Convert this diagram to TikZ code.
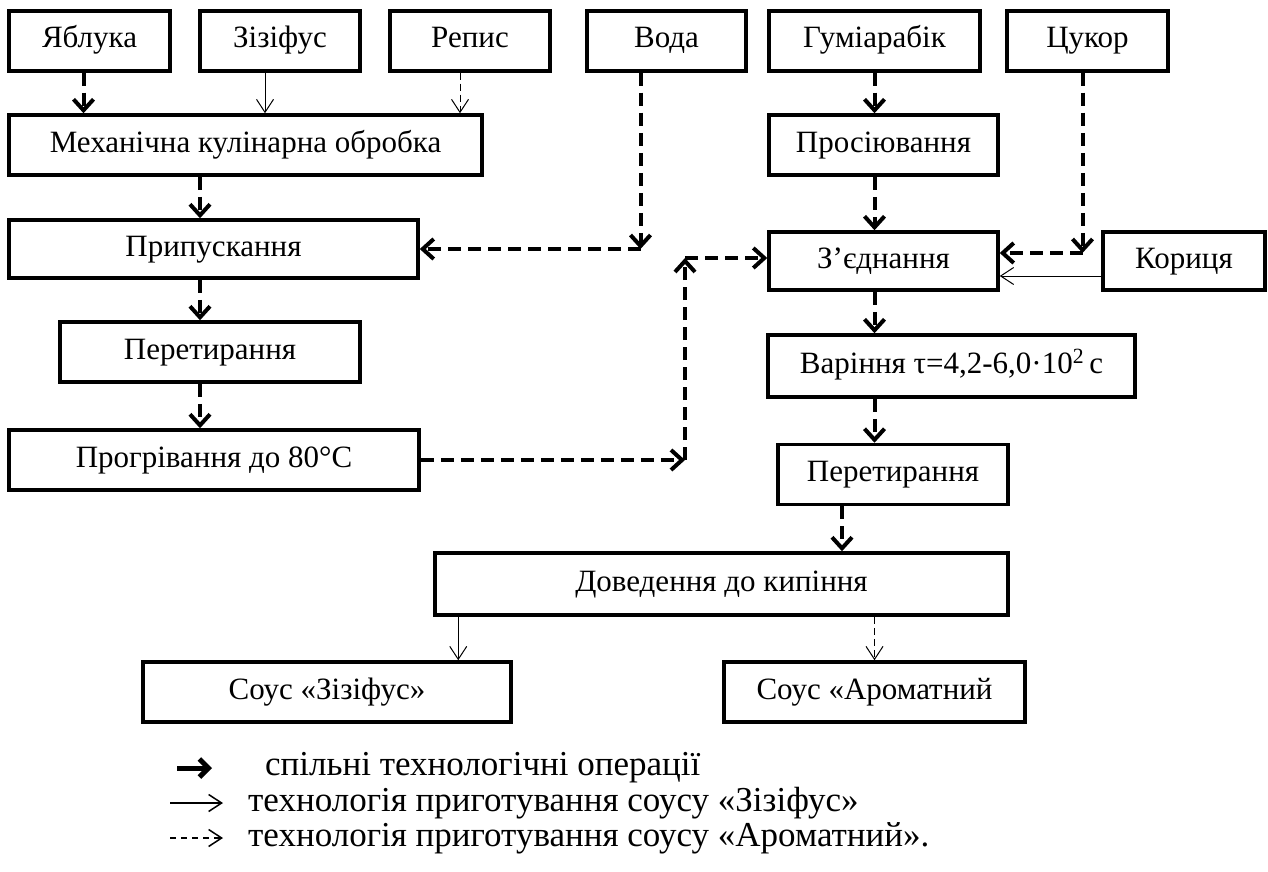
\documentclass[tikz,border=0pt]{standalone}
\usepackage{fontspec}
\setmainfont{Liberation Serif}
\usetikzlibrary{arrows.meta}

\begin{document}
\begin{tikzpicture}[x = 1pt, y = -1pt,
    blok/.style = {draw, line width = 3.5pt, minimum height = 60pt, inner sep = 0pt, text height = 21pt, text depth = 7pt, font = \fontsize{31}{36}\selectfont},
    spilna/.style = {line width = 4pt, dash pattern = on 13pt off 7pt, -{Straight Barb[length = 11pt, width = 20pt]}},
    zizifus/.style = {line width = 1pt, -{Straight Barb[length = 13pt, width = 17pt]}},
    aromat/.style = {line width = 1pt, dash pattern = on 7pt off 4pt, -{Straight Barb[length = 13pt, width = 17pt]}},
    legenda/.style = {anchor = west, inner sep = 0pt, font = \fontsize{35}{40}\selectfont}]

\useasboundingbox (0, 0) rectangle (1268, 872);

\node[blok, minimum width = 161pt] (jabl) at (89.5, 41) {Яблука};
\node[blok, minimum width = 160pt] (zizif) at (280, 41) {Зізіфус};
\node[blok, minimum width = 160pt] (repis) at (470, 41) {Репис};
\node[blok, minimum width = 159pt] (voda) at (666.5, 41) {Вода};
\node[blok, minimum width = 211pt] (gumi) at (874.5, 41) {Гуміарабік};
\node[blok, minimum width = 161pt] (cukor) at (1087.5, 41) {Цукор};

\node[blok, minimum width = 473pt] (mekh) at (245.5, 145) {Механічна кулінарна обробка};
\node[blok, minimum width = 409pt, minimum height = 58pt] (prypusk) at (213.5, 249) {Припускання};
\node[blok, minimum width = 300pt] (peret1) at (210, 352) {Перетирання};
\node[blok, minimum width = 410pt] (progriv) at (214, 460) {Прогрівання до 80°C};

\node[blok, minimum width = 229pt] (prosiyuv) at (883.5, 145) {Просіювання};
\node[blok, minimum width = 229pt, minimum height = 58pt] (zjedn) at (883.5, 261) {З’єднання};
\node[blok, minimum width = 162pt, minimum height = 58pt] (koryc) at (1184, 261) {Кориця};
\node[blok, minimum width = 367pt, minimum height = 62pt] (varin) at (951.5, 366) {Варіння τ=4,2-6,0·10\textsuperscript{2}\,с};
\node[blok, minimum width = 230pt] (peret2) at (893, 474.5) {Перетирання};
\node[blok, minimum width = 573pt, minimum height = 62pt] (doved) at (721.5, 584) {Доведення до кипіння};

\node[blok, minimum width = 368pt] (sousz) at (327, 692) {Соус «Зізіфус»};
\node[blok, minimum width = 301pt] (sousa) at (874.5, 692) {Соус «Ароматний};

\coordinate (j1) at ([xshift = -6pt] jabl.south);
\coordinate (z1) at ([xshift = -15pt] zizif.south);
\coordinate (r1) at ([xshift = -10pt] repis.south);
\coordinate (v1) at ([xshift = -26pt] voda.south);
\coordinate (v2) at (v1 |- prypusk.east);
\coordinate (lv) at ([xshift = -10pt] peret1.north);
\coordinate (p1) at (685, 460);
\coordinate (p2) at (685, 258);
\coordinate (c1) at ([xshift = -5pt] cukor.south);
\coordinate (c3) at ([yshift = 8pt] zjedn.east);
\coordinate (c2) at (c1 |- c3);
\coordinate (k1) at ([yshift = -15pt] koryc.west);
\coordinate (d1) at ([xshift = -51pt] peret2.south);
\coordinate (d2) at ([xshift = 25pt] doved.south west);

\draw[spilna] (j1) to (j1 |- mekh.north);
\draw[zizifus] (z1) to (z1 |- mekh.north);
\draw[aromat] (r1) to (r1 |- mekh.north);

\draw[spilna] (mekh.south -| lv) to (prypusk.north -| lv);
\draw[spilna] (prypusk.south -| lv) to (lv);
\draw[spilna] (peret1.south -| lv) to (progriv.north -| lv);

\draw[spilna] (v1) to (v2);
\draw[spilna] (v2) to (prypusk.east);

\draw[spilna] (progriv.east) to (p1);
\draw[spilna] (p1) to (p2);
\draw[spilna] (p2) to (p2 -| zjedn.west);

\draw[spilna] (gumi.south) to (prosiyuv.north -| gumi.south);
\draw[spilna] (prosiyuv.south -| gumi.south) to (zjedn.north -| gumi.south);

\draw[spilna] (c1) to (c2);
\draw[spilna] (c2) to (c3);
\draw[zizifus] (k1) to (k1 -| zjedn.east);

\draw[spilna] (zjedn.south -| gumi.south) to (varin.north -| gumi.south);
\draw[spilna] (varin.south -| gumi.south) to (peret2.north -| gumi.south);
\draw[spilna] (d1) to (d1 |- doved.north);

\draw[zizifus] (d2) to (d2 |- sousz.north);
\draw[aromat] (doved.south -| gumi.south) to (sousa.north -| gumi.south);

\coordinate (l1a) at (177, 768);
\coordinate (l1b) at (212, 768);
\coordinate (l2a) at (170, 803);
\coordinate (l2b) at (223, 803);
\coordinate (l3a) at (170, 838);
\coordinate (l3b) at (223, 838);

\draw[line width = 5pt, -{Straight Barb[length = 9pt, width = 18pt]}] (l1a) to (l1b);
\draw[zizifus, line width = 1.5pt] (l2a) to (l2b);
\draw[aromat, line width = 1.5pt, dash pattern = on 6pt off 5pt] (l3a) to (l3b);

\node[legenda] (leg1) at (265, 768) {спільні технологічні операції};
\node[legenda] (leg2) at (248, 803) {технологія приготування соусу «Зізіфус»};
\node[legenda] (leg3) at (248, 838) {технологія приготування соусу «Ароматний».};

\end{tikzpicture}
\end{document}
